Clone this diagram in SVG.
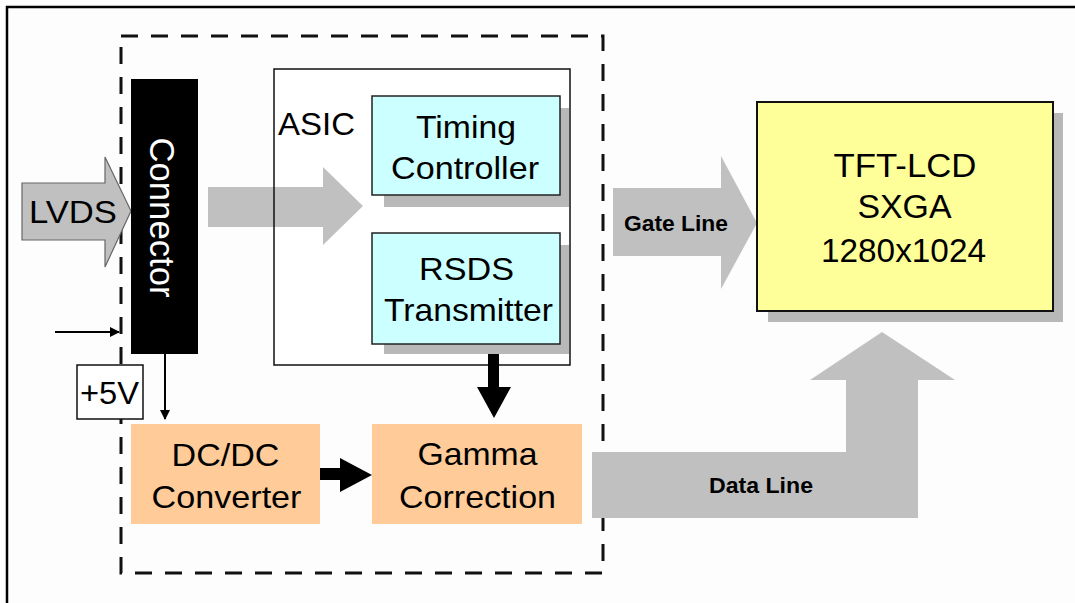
<svg xmlns="http://www.w3.org/2000/svg" width="1075" height="603" viewBox="0 0 1075 603">
  <style>
    .t { font-family: "Liberation Sans", Arial, sans-serif; fill: #000; text-anchor: middle; }
    .big { font-size: 32px; }
    .lbl { font-size: 22px; font-weight: bold; }
    .flow { fill: #c0c0c0; }
    .shadow { fill: #b8b8b8; }
  </style>
  <defs>
    <marker id="thin" viewBox="0 0 10 10" refX="9" refY="5" markerWidth="5" markerHeight="5" orient="auto">
      <path d="M0,0 L10,5 L0,10 Z" fill="#000"/>
    </marker>
  </defs>

  <rect width="1075" height="603" fill="#fdfdfd"/>
  <!-- frame: top and left edges only -->
  <path d="M7,603 L7,7 L1075,7" fill="none" stroke="#000" stroke-width="2.5"/>

  <!-- board outline -->
  <rect x="121" y="36" width="482" height="537" fill="none" stroke="#111" stroke-width="3" stroke-dasharray="17 13"/>

  <!-- ASIC container -->
  <g id="asic">
    <rect x="274" y="69" width="296" height="296" fill="#fff" stroke="#111" stroke-width="1.5"/>
    <text class="t big" x="316.5" y="135" textLength="77" lengthAdjust="spacingAndGlyphs">ASIC</text>
  </g>

  <!-- connectors -->
  <g id="connectors">
    <!-- LVDS input -->
    <path d="M22,183 L105,183 L105,157 L131,211 L105,267 L105,240 L22,240 Z" class="flow" stroke="#666" stroke-width="1.2"/>
    <!-- connector to ASIC -->
    <path d="M208,187 L323,187 L323,167 L363,206 L323,245 L323,227 L208,227 Z" class="flow"/>
    <line x1="274" y1="187" x2="274" y2="227" stroke="#111" stroke-width="1.5"/>
    <!-- side input -->
    <line x1="55" y1="332" x2="119" y2="332" stroke="#000" stroke-width="2" marker-end="url(#thin)"/>
    <!-- connector to DC/DC -->
    <line x1="165" y1="354" x2="165" y2="419" stroke="#000" stroke-width="2" marker-end="url(#thin)"/>
    <!-- DC/DC to Gamma -->
    <path d="M320,468 L340,468 L340,458 L372,475 L340,492 L340,480 L320,480 Z" fill="#000"/>
    <!-- RSDS to Gamma -->
    <path d="M488,354 L499,354 L499,387 L511,387 L494,418 L477,387 L488,387 Z" fill="#000"/>
    <!-- gate line -->
    <path d="M613,188 L721,188 L721,156 L757,223 L721,289 L721,256 L613,256 Z" class="flow"/>
    <text class="t lbl" x="676" y="231" textLength="104" lengthAdjust="spacingAndGlyphs">Gate Line</text>
    <!-- data line -->
    <path d="M592,452 L846,452 L846,380 L810,380 L882,332 L955,380 L918,380 L918,518 L592,518 Z" class="flow"/>
    <text class="t lbl" x="761" y="493" textLength="104" lengthAdjust="spacingAndGlyphs">Data Line</text>
  </g>

  <g id="connector">
    <rect x="131" y="79" width="67" height="275" fill="#000"/>
    <text class="t" x="0" y="0" font-size="35" style="fill:#fff" transform="translate(150,217.5) rotate(90)" textLength="160" lengthAdjust="spacingAndGlyphs">Connector</text>
  </g>

  <g id="lvds">
    <text class="t big" x="73" y="223" textLength="88" lengthAdjust="spacingAndGlyphs">LVDS</text>
  </g>

  <g id="plus5v">
    <rect x="77" y="365" width="66" height="54" fill="#fff" stroke="#111" stroke-width="1.5"/>
    <text class="t big" x="109.5" y="404" textLength="59" lengthAdjust="spacingAndGlyphs">+5V</text>
  </g>

  <g id="timing">
    <rect x="384" y="108" width="185" height="99" class="shadow"/>
    <rect x="372" y="96" width="188" height="99" fill="#ccffff" stroke="#222" stroke-width="1.5"/>
    <text class="t big" x="466" y="138" textLength="100" lengthAdjust="spacingAndGlyphs">Timing</text>
    <text class="t big" x="465" y="179" textLength="148" lengthAdjust="spacingAndGlyphs">Controller</text>
  </g>

  <g id="rsds">
    <rect x="384" y="245" width="185" height="109" class="shadow"/>
    <rect x="372" y="233" width="188" height="111" fill="#ccffff" stroke="#222" stroke-width="1.5"/>
    <text class="t big" x="466.5" y="280" textLength="95" lengthAdjust="spacingAndGlyphs">RSDS</text>
    <text class="t big" x="468.5" y="321" textLength="169" lengthAdjust="spacingAndGlyphs">Transmitter</text>
  </g>

  <g id="dcdc">
    <rect x="131" y="424" width="189" height="100" fill="#ffcc99"/>
    <text class="t big" x="225.5" y="466" textLength="108" lengthAdjust="spacingAndGlyphs">DC/DC</text>
    <text class="t big" x="226.5" y="508" textLength="150" lengthAdjust="spacingAndGlyphs">Converter</text>
  </g>

  <g id="gamma">
    <rect x="372" y="424" width="210" height="100" fill="#ffcc99"/>
    <text class="t big" x="477.5" y="465" textLength="120" lengthAdjust="spacingAndGlyphs">Gamma</text>
    <text class="t big" x="477.5" y="508" textLength="157" lengthAdjust="spacingAndGlyphs">Correction</text>
  </g>

  <g id="tft">
    <rect x="768" y="113" width="295" height="209" class="shadow"/>
    <rect x="757" y="102" width="296" height="209" fill="#ffff99" stroke="#111" stroke-width="2"/>
    <text class="t" x="905" y="177" font-size="33" textLength="143" lengthAdjust="spacingAndGlyphs">TFT-LCD</text>
    <text class="t" x="904.5" y="218" font-size="33" textLength="94" lengthAdjust="spacingAndGlyphs">SXGA</text>
    <text class="t" x="903.5" y="262" font-size="33" textLength="165" lengthAdjust="spacingAndGlyphs">1280x1024</text>
  </g>
</svg>
